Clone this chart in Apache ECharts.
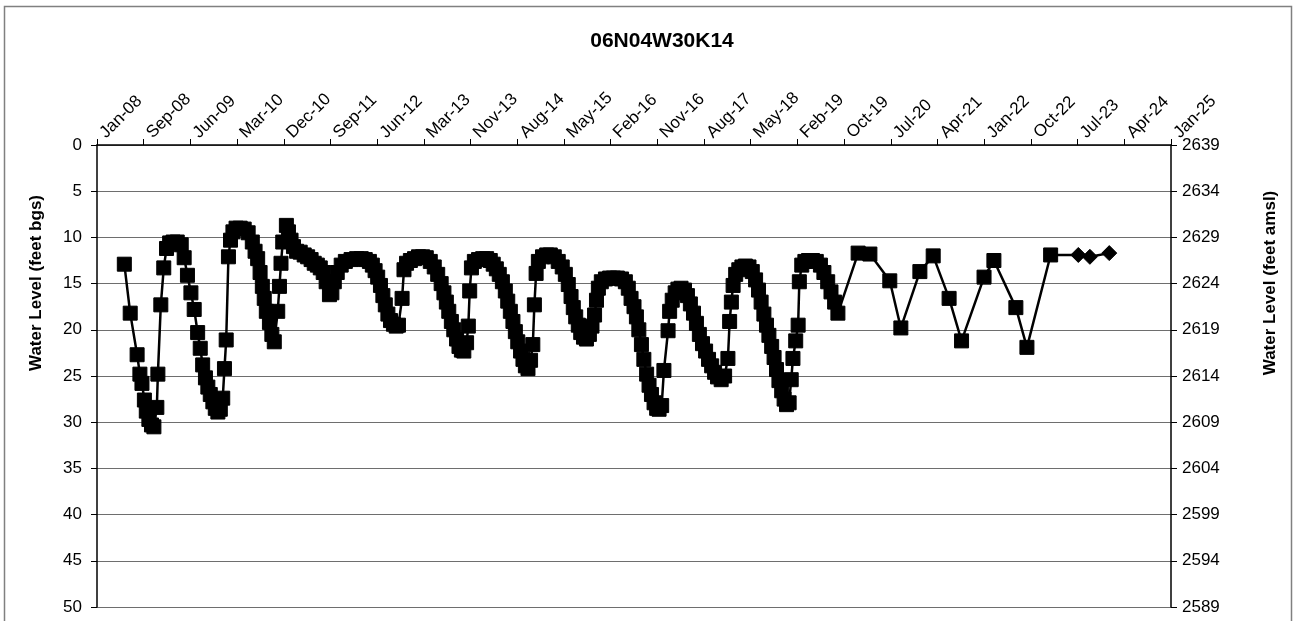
<!DOCTYPE html>
<html>
<head>
<meta charset="utf-8">
<script src="https://cdn.jsdelivr.net/npm/echarts@6/dist/echarts.min.js"></script>
<style>
  html, body { margin: 0; padding: 0; background: #fff; }
  #chart { width: 1299px; height: 621px; }
</style>
</head>
<body>
<div id="chart"></div>
<script>
// ---------------- DATA ----------------
const chartTitle = '06N04W30K14';
const leftAxisName = 'Water Level (feet bgs)';
const rightAxisName = 'Water Level (feet amsl)';

// x-axis tick labels (every 270 days from Jan 1 2008)
const xTickLabels = ['Jan-08','Sep-08','Jun-09','Mar-10','Dec-10','Sep-11','Jun-12','Mar-13','Nov-13',
  'Aug-14','May-15','Feb-16','Nov-16','Aug-17','May-18','Feb-19','Oct-19','Jul-20','Apr-21','Jan-22',
  'Oct-22','Jul-23','Apr-24','Jan-25'];
const leftTickLabels = ['0','5','10','15','20','25','30','35','40','45','50'];
const rightTickLabels = ['2639','2634','2629','2624','2619','2614','2609','2604','2599','2594','2589'];

// Dense record 2008-2013 (depth, feet bgs)
const datesA = ['2008-06-07','2008-07-11','2008-08-20','2008-09-05','2008-09-17','2008-10-01','2008-10-12','2008-10-27','2008-11-11','2008-11-25',
  '2008-12-12','2008-12-18','2009-01-04','2009-01-21','2009-02-06','2009-02-24','2009-03-16','2009-04-09','2009-05-02','2009-05-19',
  '2009-06-07','2009-06-27','2009-07-16','2009-08-05','2009-08-20','2009-09-03','2009-09-19','2009-10-03','2009-10-17','2009-11-01',
  '2009-11-15','2009-11-30','2009-12-14','2009-12-28','2010-01-07','2010-01-17','2010-01-30','2010-02-11','2010-02-25','2010-03-15',
  '2010-04-08','2010-05-01','2010-05-24','2010-06-17','2010-07-03','2010-07-18','2010-08-01','2010-08-14','2010-08-25','2010-09-06',
  '2010-09-24','2010-10-08','2010-10-22','2010-11-11','2010-11-21','2010-11-30','2010-12-10','2010-12-31','2011-01-12','2011-01-27',
  '2011-02-10','2011-02-28','2011-03-21','2011-04-13','2011-05-03','2011-05-23','2011-06-10','2011-06-28','2011-07-15','2011-08-01',
  '2011-08-18','2011-09-06','2011-09-20','2011-10-04','2011-10-21','2011-11-13','2011-12-07','2012-01-09','2012-02-10','2012-03-08',
  '2012-03-31','2012-04-24','2012-05-11','2012-05-27','2012-06-11','2012-06-27','2012-07-11','2012-07-25','2012-08-09','2012-08-24',
  '2012-09-10','2012-09-26','2012-10-09','2012-10-30','2012-11-10','2012-11-25','2012-12-17','2013-01-10','2013-02-02','2013-02-26',
  '2013-03-19','2013-04-11','2013-05-04','2013-05-24','2013-06-13','2013-06-29','2013-07-13','2013-07-27','2013-08-11','2013-08-25',
  '2013-09-10','2013-09-24','2013-10-08','2013-10-22','2013-11-07','2013-11-17','2013-11-25','2013-12-05','2013-12-22'];
const levelsA = [12.9,18.2,22.7,24.8,25.8,27.6,28.8,29.7,30.3,30.5,
  28.4,24.8,17.3,13.3,11.2,10.6,10.5,10.5,10.8,12.2,
  14.1,16.0,17.8,20.3,22.0,23.8,25.2,26.2,27.0,27.8,
  28.5,28.9,28.6,27.4,24.2,21.1,12.1,10.3,9.4,9.0,
  9.0,9.1,9.5,10.5,11.5,12.3,13.8,15.3,16.6,18.0,
  19.2,20.5,21.3,18.0,15.3,12.8,10.5,8.7,9.4,10.3,
  11.0,11.5,11.6,11.9,12.1,12.4,12.8,13.0,13.3,13.8,
  14.8,16.2,16.0,14.8,13.8,13.0,12.6,12.4,12.3,12.3,
  12.4,12.6,13.0,13.6,14.3,15.2,16.3,17.3,18.3,19.0,
  19.4,19.6,19.5,16.6,13.5,12.8,12.5,12.3,12.1,12.1,
  12.2,12.6,13.2,14.0,15.0,16.0,17.0,18.0,19.1,20.0,
  21.0,21.8,22.2,22.3,21.4,19.6,15.8,13.3,12.6];

// Dense record 2014-2019
const datesB = ['2014-01-15','2014-02-08','2014-03-03','2014-03-24','2014-04-10','2014-04-28','2014-05-15','2014-06-02','2014-06-19','2014-07-03',
  '2014-07-18','2014-08-02','2014-08-16','2014-08-30','2014-09-15','2014-09-29','2014-10-13','2014-10-28','2014-11-12','2014-11-25',
  '2014-12-04','2014-12-14','2014-12-27','2015-01-20','2015-02-13','2015-03-06','2015-03-29','2015-04-21','2015-05-14','2015-06-01',
  '2015-06-18','2015-07-04','2015-07-17','2015-07-31','2015-08-15','2015-08-29','2015-09-14','2015-10-01','2015-10-18','2015-11-02',
  '2015-11-17','2015-11-28','2015-12-09','2015-12-26','2016-01-19','2016-02-12','2016-03-05','2016-03-28','2016-04-21','2016-05-13',
  '2016-05-30','2016-06-15','2016-07-02','2016-07-16','2016-07-30','2016-08-14','2016-08-28','2016-09-13','2016-09-27','2016-10-11',
  '2016-10-26','2016-11-10','2016-11-24','2016-12-09','2016-12-22','2017-01-15','2017-01-24','2017-02-08','2017-02-25','2017-03-13',
  '2017-03-31','2017-04-20','2017-05-07','2017-05-24','2017-06-11','2017-06-28','2017-07-15','2017-08-02','2017-08-20','2017-09-06',
  '2017-09-24','2017-10-11','2017-10-28','2017-11-18','2017-12-08','2017-12-27','2018-01-06','2018-01-16','2018-01-26','2018-02-10',
  '2018-02-28','2018-03-18','2018-04-07','2018-04-28','2018-05-17','2018-06-05','2018-06-22','2018-07-07','2018-07-23','2018-08-07',
  '2018-08-21','2018-09-06','2018-09-20','2018-10-04','2018-10-18','2018-11-03','2018-11-17','2018-12-01','2018-12-16','2018-12-28',
  '2019-01-07','2019-01-23','2019-02-06','2019-02-13','2019-02-27','2019-03-17','2019-04-07','2019-04-30','2019-05-22','2019-06-15',
  '2019-07-05','2019-07-27','2019-08-15','2019-09-05','2019-09-24'];
const levelsB = [12.4,12.3,12.3,12.5,12.9,13.4,14.0,14.8,15.8,16.9,
  18.0,19.1,20.2,21.3,22.3,23.2,23.9,24.2,23.3,21.6,
  17.3,13.9,12.6,12.1,11.9,11.9,12.1,12.6,13.2,14.0,
  15.1,16.4,17.6,18.6,19.5,20.3,20.8,21.0,20.5,19.6,
  18.4,16.8,15.5,14.8,14.5,14.4,14.4,14.4,14.5,14.8,
  15.5,16.6,17.5,18.6,20.0,21.6,23.2,24.8,26.0,27.0,
  27.9,28.5,28.6,28.2,24.4,20.1,18.0,16.8,16.0,15.6,
  15.5,15.7,16.3,17.2,18.2,19.3,20.5,21.5,22.3,23.2,
  23.9,24.6,25.1,25.4,25.0,23.1,19.1,17.0,15.2,14.0,
  13.5,13.2,13.1,13.2,13.7,14.6,15.7,17.0,18.3,19.5,
  20.6,21.8,23.0,24.3,25.5,26.6,27.5,28.1,27.9,25.4,
  23.1,21.2,19.5,14.8,13.0,12.6,12.5,12.5,12.6,13.0,
  13.8,14.8,15.9,17.0,18.2];

// Sparse record 2020-2023 (squares)
const datesC = ['2020-01-19','2020-03-27','2020-07-20','2020-09-22','2021-01-10','2021-03-28','2021-06-28','2021-09-08',
  '2022-01-16','2022-03-14','2022-07-19','2022-09-21','2023-02-05'];
const levelsC = [11.7,11.8,14.7,19.8,13.7,12.0,16.6,21.2,14.3,12.5,17.6,21.9,11.9];

// Most recent readings (diamonds)
const datesD = ['2023-07-15','2023-09-20','2024-01-10'];
const levelsD = [11.9,12.1,11.7];

// ---------------- CHART ----------------
const BASE = Date.UTC(2008, 0, 1);
const DAY = 86400000;
const TICK_DAYS = 270;
function dayOffset(s) {
  const p = s.split('-').map(Number);
  return (Date.UTC(p[0], p[1] - 1, p[2]) - BASE) / DAY;
}
const FONT = '"Liberation Sans", Arial, Helvetica, sans-serif';

const seriesData = [];
datesA.forEach((d, i) => seriesData.push([dayOffset(d), levelsA[i]]));
datesB.forEach((d, i) => seriesData.push([dayOffset(d), levelsB[i]]));
datesC.forEach((d, i) => seriesData.push([dayOffset(d), levelsC[i]]));
datesD.forEach((d, i) => seriesData.push({ value: [dayOffset(d), levelsD[i]], symbol: 'diamond', symbolSize: 15 }));

const chart = echarts.init(document.getElementById('chart'), null, { renderer: 'canvas' });

const option = {
  animation: false,
  backgroundColor: '#ffffff',
  grid: { left: 97, right: 128, top: 145, bottom: 14, containLabel: false },
  xAxis: {
    type: 'value',
    position: 'top',
    min: 0,
    max: dayOffset('2025-01-01'),
    interval: TICK_DAYS,
    axisLine: { show: true, onZero: false, lineStyle: { color: '#000', width: 1.5 } },
    axisTick: { show: true, length: 6, lineStyle: { color: '#000', width: 1 } },
    splitLine: { show: false },
    axisLabel: {
      rotate: -45, margin: 4, padding: [0, 0, 0, 8], fontSize: 17, color: '#000', fontFamily: FONT,
      showMinLabel: true, showMaxLabel: true, hideOverlap: false,
      formatter: v => xTickLabels[Math.round(v / TICK_DAYS)] || ''
    }
  },
  yAxis: [{
    type: 'value', inverse: true, min: 0, max: 50, interval: 5, position: 'left',
    axisLine: { show: true, lineStyle: { color: '#000', width: 1.5 } },
    axisTick: { show: true, length: 6, lineStyle: { color: '#000' } },
    splitLine: { show: true, lineStyle: { color: '#6e6e6e', width: 1.2 } },
    axisLabel: { margin: 15, fontSize: 17, color: '#000', fontFamily: FONT,
      formatter: v => leftTickLabels[Math.round(v / 5)] }
  }, {
    type: 'value', inverse: true, min: 0, max: 50, interval: 5, position: 'right',
    axisLine: { show: true, lineStyle: { color: '#000', width: 1.5 } },
    axisTick: { show: true, length: 6, lineStyle: { color: '#000' } },
    splitLine: { show: false },
    axisLabel: { margin: 11, fontSize: 17, color: '#000', fontFamily: FONT,
      formatter: v => rightTickLabels[Math.round(v / 5)] }
  }],
  series: [{
    type: 'line',
    xAxisIndex: 0, yAxisIndex: 0,
    data: seriesData,
    symbol: 'rect',
    symbolSize: 14,
    showAllSymbol: true,
    lineStyle: { color: '#000', width: 2.5 },
    itemStyle: { color: '#000', borderColor: '#000' },
    emphasis: { disabled: true }
  }],
  graphic: [
    { type: 'rect', silent: true, shape: { x: 4.5, y: 6.5, width: 1287, height: 700 },
      style: { fill: 'none', stroke: '#808080', lineWidth: 1.5 } },
    { type: 'text', x: 662, y: 41, silent: true,
      style: { text: chartTitle, font: 'bold 21px ' + FONT, fill: '#000', textAlign: 'center', textVerticalAlign: 'middle' } },
    { type: 'text', x: 36, y: 283, rotation: Math.PI / 2, silent: true,
      style: { text: leftAxisName, font: 'bold 17px ' + FONT, fill: '#000', textAlign: 'center', textVerticalAlign: 'middle' } },
    { type: 'text', x: 1270, y: 283, rotation: Math.PI / 2, silent: true,
      style: { text: rightAxisName, font: 'bold 17px ' + FONT, fill: '#000', textAlign: 'center', textVerticalAlign: 'middle' } }
  ]
};
chart.setOption(option);
</script>
</body>
</html>
